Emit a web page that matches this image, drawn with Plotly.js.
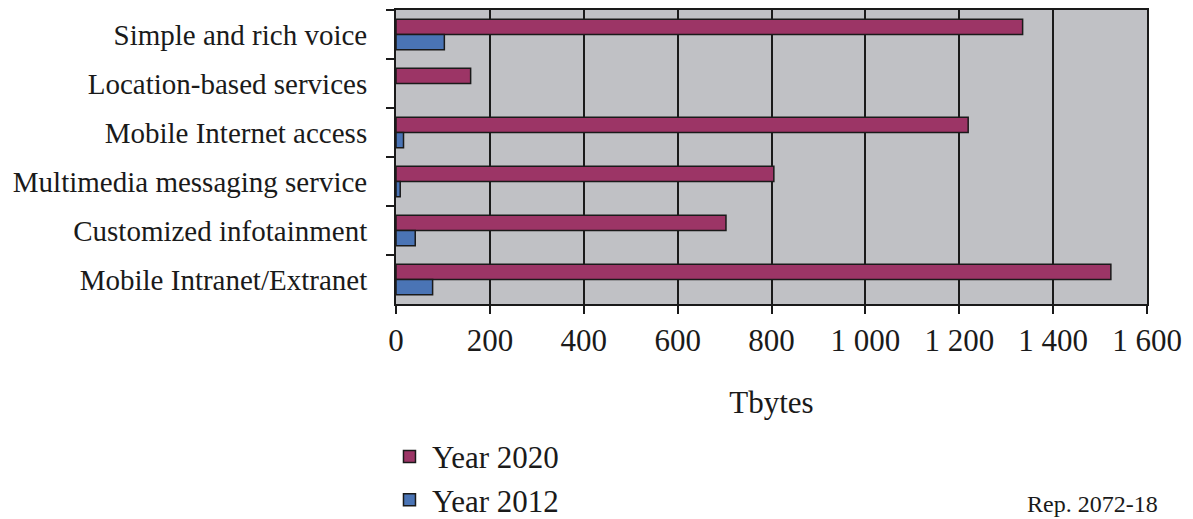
<!DOCTYPE html>
<html>
<head>
<meta charset="utf-8">
<script src="https://cdn.plot.ly/plotly-3.0.1.min.js"></script>
<style>html,body{margin:0;padding:0;background:#fff;}#chart{width:1193px;height:519px;}</style>
</head>
<body>
<div id="chart"></div>
<script>
var categories = ["Simple and rich voice", "Location-based services", "Mobile Internet access", "Multimedia messaging service", "Customized infotainment", "Mobile Intranet/Extranet"];
var year2020 = [1335, 159, 1219, 805, 703, 1523];
var year2012 = [103, null, 16, 9, 41, 78];
var tickValues = [0, 200, 400, 600, 800, 1000, 1200, 1400, 1600];
var tickLabels = ["0", "200", "400", "600", "800", "1 000", "1 200", "1 400", "1 600"];

var font = "Liberation Serif";
var traces = [
  {type: "bar", orientation: "h", name: "Year 2020", y: categories, x: year2020,
   marker: {color: "#9c3566", line: {color: "#1a1a1a", width: 1.5}}},
  {type: "bar", orientation: "h", name: "Year 2012", y: categories, x: year2012,
   marker: {color: "#4a74b5", line: {color: "#1a1a1a", width: 1.5}}}
];
var layout = {
  width: 1193, height: 519,
  margin: {l: 396, r: 46, t: 10, b: 215, autoexpand: false},
  paper_bgcolor: "#ffffff", plot_bgcolor: "#c0c1c5",
  barmode: "group", bargap: 0.38, bargroupgap: 0,
  font: {family: font, color: "#1a1a1a"},
  showlegend: true,
  legend: {xref: "paper", yref: "container", x: -0.012, y: 0.172, xanchor: "left", yanchor: "top",
           font: {size: 31, family: font}, traceorder: "normal", bgcolor: "rgba(0,0,0,0)",
           tracegroupgap: 0, itemwidth: 35},
  xaxis: {range: [0, 1600], tickvals: tickValues, ticktext: tickLabels,
          showgrid: true, gridcolor: "#1a1a1a", gridwidth: 2,
          showline: true, linecolor: "#1a1a1a", linewidth: 2, mirror: true,
          ticks: "outside", ticklen: 8, tickwidth: 2, tickcolor: "#1a1a1a",
          tickfont: {size: 31, family: font, color: "#1a1a1a"}, zeroline: false,
          title: {text: "Tbytes", font: {size: 31, family: font, color: "#1a1a1a"}, standoff: 34}},
  yaxis: {type: "category", autorange: "reversed", tickson: "boundaries",
          showline: true, linecolor: "#1a1a1a", linewidth: 2, mirror: true,
          ticks: "outside", ticklen: 8, tickwidth: 2, tickcolor: "#1a1a1a",
          showgrid: false, ticklabelstandoff: 21,
          tickfont: {size: 29, family: font, color: "#1a1a1a"}},
  annotations: [{text: "Rep. 2072-18", xref: "paper", yref: "paper", x: 0.8375, y: -0.63,
                 xanchor: "left", yanchor: "top", showarrow: false,
                 font: {size: 24, family: font, color: "#1a1a1a"}}]
};
Plotly.newPlot("chart", traces, layout, {displayModeBar: false, staticPlot: true});
</script>
</body>
</html>
